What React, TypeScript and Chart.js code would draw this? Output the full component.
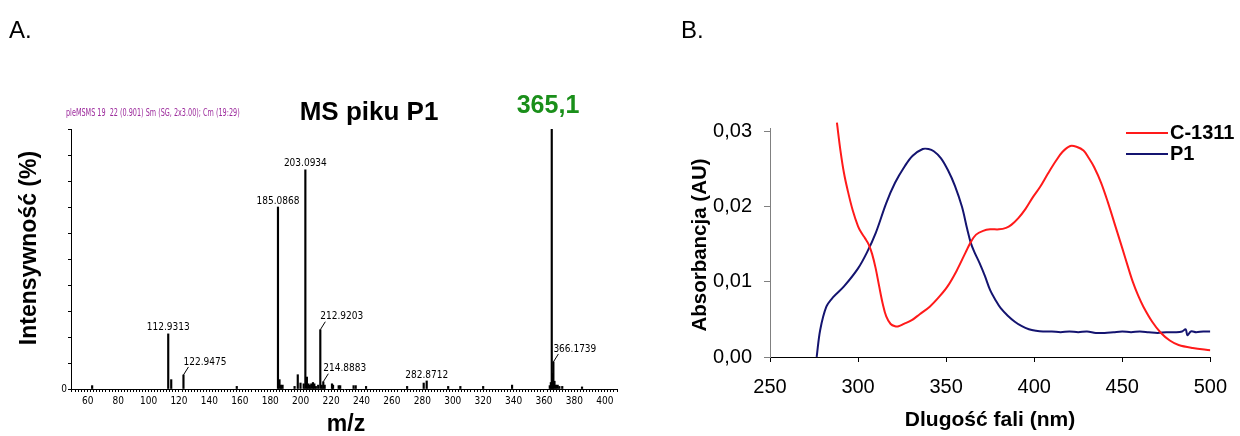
import React, { useEffect, useRef } from 'react';
import { Chart, registerables } from 'chart.js';
Chart.register(...registerables);

// ---------- Panel A: MS spectrum ----------
const peakMz = [62.9, 112.9313, 114.9, 122.9475, 158.0, 185.0868, 186.09, 187.1, 188.1, 196.0, 198.1, 199.9,
  202.0, 203.0934, 204.1, 205.1, 206.0, 207.0, 208.1, 209.0, 210.0, 211.5, 212.9203, 213.9, 214.8883, 215.8,
  220.6, 221.3, 225.0, 226.0, 234.8, 236.2, 243.0, 270.0, 280.9, 282.8712, 297.0, 305.0, 320.0, 339.0,
  363.8, 364.5, 365.1, 365.6, 366.1739, 366.9, 367.9, 369.0, 370.1, 372.0, 385.0];
const peakIntensity = [1.3, 21.2, 3.6, 5.4, 1.0, 70, 3.6, 1.5, 1.5, 1.0, 5.5, 2.3,
  2.0, 84.3, 4.6, 2.0, 1.5, 2.0, 2.5, 2.0, 1.0, 1.5, 22.8, 1.5, 2.8, 1.5,
  2.0, 1.5, 1.3, 1.3, 1.3, 1.3, 1.0, 1.0, 2.3, 3.1, 1.0, 1.0, 1.0, 1.5,
  1.3, 2.5, 100, 6.0, 10.4, 3.0, 1.5, 1.5, 1.0, 1.0, 0.8];
const labelMz = [112.9313, 122.9475, 185.0868, 203.0934, 212.9203, 214.8883, 282.8712, 366.1739];
const labelText = ['112.9313', '122.9475', '185.0868', '203.0934', '212.9203', '214.8883', '282.8712', '366.1739'];
const labelLeader = [false, true, false, false, true, true, false, true];

// ---------- Panel B: UV-Vis spectra ----------
const nmC1311 = [288, 290, 292, 294, 297, 300, 302, 304, 306, 308, 310, 312, 314, 316, 318.5, 321, 323, 326, 330.5,
  335, 340.7, 346, 350.8, 356, 361, 364, 367, 371, 375, 380, 384, 387, 391, 395, 399, 403.5, 408, 412, 416, 420.5,
  424, 428, 431, 434, 438, 442, 446, 450, 453, 456, 459, 462, 467, 472, 477, 482, 490, 500];
const absC1311 = [0.0312, 0.0275, 0.0245, 0.0223, 0.0195, 0.0174, 0.0165, 0.0158, 0.0150, 0.0137, 0.0118, 0.0094,
  0.0071, 0.0054, 0.0044, 0.0041, 0.0041, 0.0044, 0.0049, 0.0057, 0.0067, 0.0080, 0.0094, 0.0115, 0.0139, 0.0153,
  0.0163, 0.0168, 0.0170, 0.0170, 0.0172, 0.0176, 0.0185, 0.0197, 0.0212, 0.0227, 0.0245, 0.0260, 0.0273, 0.0281,
  0.0280, 0.0275, 0.0265, 0.0253, 0.0232, 0.0205, 0.0175, 0.0145, 0.0122, 0.0100, 0.0082, 0.0067, 0.0047, 0.0032,
  0.0022, 0.0016, 0.0012, 0.0009];
const nmP1 = [276.5, 278.5, 282, 286, 292, 300, 305, 310, 316, 321, 326.5, 331, 336.7, 340, 343, 347, 351, 355, 359,
  362, 364, 366, 369, 372, 375, 378, 381, 385, 389, 393, 397, 401, 405, 410, 415, 420, 425, 430, 435, 440, 445, 450,
  455, 460, 465, 470, 475, 480, 484, 486, 487, 489, 492, 496, 500];
const absP1 = [0, 0.0036, 0.0067, 0.0080, 0.0094, 0.0118, 0.0139, 0.0165, 0.0205, 0.0232, 0.0254, 0.0268, 0.0277,
  0.0277, 0.0274, 0.0265, 0.0249, 0.0228, 0.0200, 0.0170, 0.0152, 0.0140, 0.0125, 0.0108, 0.0089, 0.0076, 0.0065,
  0.0055, 0.0047, 0.0041, 0.0037, 0.0035, 0.0034, 0.0034, 0.0033, 0.0034, 0.0033, 0.0034, 0.0032, 0.0032, 0.0033,
  0.0034, 0.0033, 0.0034, 0.0033, 0.0032, 0.0033, 0.0033, 0.0034, 0.0037, 0.0029, 0.0034, 0.0033, 0.0034, 0.0034];
const xTicksB = [250, 300, 350, 400, 450, 500];
const yTicksB = [0, 0.01, 0.02, 0.03];
const seriesNames = ['C-1311', 'P1'];
const seriesColors = ['#ff1a1a', '#141470'];

const SANS = "'Liberation Sans', Arial, sans-serif";
const NARROW = "'Liberation Sans Narrow', 'DejaVu Sans Condensed', sans-serif";

type TextItem = { t: string; x: number; y: number; font: string; color?: string; align?: CanvasTextAlign; rot?: number; sx?: number };

function textPlugin(items: TextItem[], offX: number) {
  return {
    id: 'staticTexts',
    afterDraw(chart: any) {
      const ctx = chart.ctx;
      items.forEach((it) => {
        ctx.save();
        ctx.font = it.font;
        ctx.fillStyle = it.color || '#000';
        ctx.textAlign = it.align || 'center';
        ctx.textBaseline = 'middle';
        ctx.translate(it.x - offX, it.y);
        if (it.rot) ctx.rotate(it.rot);
        if (it.sx) ctx.scale(it.sx, 1);
        ctx.fillText(it.t, 0, 0);
        ctx.restore();
      });
    },
  };
}

const peakLabelPlugin = {
  id: 'peakLabels',
  afterDatasetsDraw(chart: any) {
    const { ctx } = chart;
    const x = chart.scales.x, y = chart.scales.y;
    ctx.save();
    ctx.font = `10px ${NARROW}`;
    ctx.fillStyle = '#000';
    ctx.strokeStyle = '#000';
    ctx.lineWidth = 1;
    ctx.textBaseline = 'middle';
    labelMz.forEach((mz, i) => {
      const idx = peakMz.indexOf(mz);
      const px = x.getPixelForValue(mz);
      const py = y.getPixelForValue(peakIntensity[idx]);
      if (labelLeader[i]) {
        ctx.beginPath();
        ctx.moveTo(px, py);
        ctx.lineTo(px + 5, py - 8);
        ctx.stroke();
        ctx.textAlign = 'left';
        ctx.fillText(labelText[i], px, py - 13);
      } else {
        ctx.textAlign = 'center';
        ctx.fillText(labelText[i], px, py - 6);
      }
    });
    ctx.restore();
  },
};

const legendPluginB = {
  id: 'legendB',
  afterDraw(chart: any) {
    const ctx = chart.ctx;
    const off = 620;
    const rows = [133, 154];
    ctx.save();
    chart.data.datasets.forEach((ds: any, i: number) => {
      ctx.strokeStyle = ds.borderColor;
      ctx.lineWidth = 2;
      ctx.beginPath();
      ctx.moveTo(1126 - off, rows[i]);
      ctx.lineTo(1168 - off, rows[i]);
      ctx.stroke();
      ctx.fillStyle = '#000';
      ctx.font = `bold 20px ${SANS}`;
      ctx.textAlign = 'left';
      ctx.textBaseline = 'middle';
      ctx.fillText(ds.label, 1170 - off, rows[i]);
    });
    ctx.restore();
  },
};

export default function App() {
  const refA = useRef<HTMLCanvasElement>(null);
  const refB = useRef<HTMLCanvasElement>(null);

  useEffect(() => {
    const textsA: TextItem[] = [
      { t: 'A.', x: 9, y: 31, font: `24px ${SANS}`, align: 'left' },
      { t: 'pleMSMS 19  22 (0.901) Sm (SG, 2x3.00); Cm (19:29)', x: 66, y: 113, font: `10px ${NARROW}`, color: '#9c2a9c', align: 'left', sx: 0.72 },
      { t: 'MS piku P1', x: 369, y: 113, font: `bold 26px ${SANS}` },
      { t: '365,1', x: 548, y: 106, font: `bold 25px ${SANS}`, color: '#1a8f1a' },
      { t: 'Intensywność (%)', x: 30, y: 248, font: `bold 23px ${SANS}`, rot: -Math.PI / 2 },
      { t: 'm/z', x: 346, y: 425, font: `bold 23px ${SANS}` },
    ];
    const chartA = new Chart(refA.current!, {
      type: 'bar',
      data: {
        datasets: [{
          data: peakMz.map((m, i) => ({ x: m, y: peakIntensity[i] })),
          backgroundColor: '#000',
          borderWidth: 0,
          barThickness: 1.5,
        }],
      },
      options: {
        animation: false,
        responsive: false,
        devicePixelRatio: 1,
        layout: { padding: { left: 0, right: 3, top: 129, bottom: 0 } },
        plugins: { legend: { display: false }, tooltip: { enabled: false } },
        scales: {
          x: {
            type: 'linear', min: 49, max: 408, offset: false,
            grid: { drawOnChartArea: false, offset: false, tickLength: 3, tickColor: '#000', color: '#000', tickWidth: 1 },
            border: { display: true, color: '#000', width: 1 },
            ticks: {
              stepSize: 2, autoSkip: false, maxRotation: 0, padding: 3, color: '#000',
              font: { family: NARROW, size: 10 },
              callback: (v: any) => (Math.abs(Number(v) % 20) < 1e-6 ? String(Math.round(Number(v))) : ''),
            },
            afterFit: (s: any) => { s.height = 47; },
          },
          y: {
            type: 'linear', min: 0, max: 100,
            grid: { drawOnChartArea: false, tickLength: 3, tickColor: '#000', color: '#000', tickWidth: 1 },
            border: { display: true, color: '#000', width: 1 },
            ticks: {
              stepSize: 10, autoSkip: false, padding: 1, color: '#000',
              font: { family: NARROW, size: 10 },
              callback: (v: any) => (Number(v) === 0 ? '0' : ' '),
            },
            afterFit: (s: any) => { s.width = 71; },
          },
        },
      } as any,
      plugins: [peakLabelPlugin, textPlugin(textsA, 0)],
    });

    const textsB: TextItem[] = [
      { t: 'B.', x: 681, y: 31, font: `24px ${SANS}`, align: 'left' },
      { t: 'Absorbancja (AU)', x: 700, y: 245, font: `bold 20.5px ${SANS}`, rot: -Math.PI / 2 },
      { t: 'Dlugość fali (nm)', x: 990, y: 420, font: `bold 21px ${SANS}` },
    ];
    const chartB = new Chart(refB.current!, {
      type: 'line',
      data: {
        datasets: [
          {
            label: seriesNames[0],
            data: nmC1311.map((n, i) => ({ x: n, y: absC1311[i] })),
            borderColor: seriesColors[0], borderWidth: 2, pointRadius: 0, tension: 0.35,
            clip: { left: 0, top: 6, right: 0, bottom: 0 },
          },
          {
            label: seriesNames[1],
            data: nmP1.map((n, i) => ({ x: n, y: absP1[i] })),
            borderColor: seriesColors[1], borderWidth: 2, pointRadius: 0, tension: 0.35,
          },
        ],
      },
      options: {
        animation: false,
        responsive: false,
        devicePixelRatio: 1,
        layout: { padding: { left: 0, right: 29, top: 128, bottom: 0 } },
        plugins: { legend: { display: false }, tooltip: { enabled: false } },
        scales: {
          x: {
            type: 'linear', min: 250, max: 500,
            grid: { drawOnChartArea: false, tickLength: 5, tickColor: '#000', color: '#000' },
            border: { display: true, color: '#000', width: 1 },
            afterBuildTicks: (s: any) => { s.ticks = xTicksB.map((v) => ({ value: v })); },
            ticks: { autoSkip: false, maxRotation: 0, padding: 13, color: '#000', font: { family: SANS, size: 20 } },
            afterFit: (s: any) => { s.height = 79; },
          },
          y: {
            type: 'linear', min: 0, max: 0.0305,
            grid: { drawOnChartArea: false, tickLength: 6, tickColor: '#808080', color: '#808080' },
            border: { display: true, color: '#808080', width: 1 },
            afterBuildTicks: (s: any) => { s.ticks = yTicksB.map((v) => ({ value: v })); },
            ticks: {
              autoSkip: false, padding: 12, color: '#000', font: { family: SANS, size: 20 },
              callback: (v: any) => Number(v).toFixed(2).replace('.', ','),
            },
            afterFit: (s: any) => { s.width = 150; },
          },
        },
      } as any,
      plugins: [legendPluginB, textPlugin(textsB, 620)],
    });

    return () => { chartA.destroy(); chartB.destroy(); };
  }, []);

  return (
    <div style={{ position: 'absolute', left: 0, top: 0, width: 1240, height: 436, background: '#fff', overflow: 'hidden' }}>
      <canvas ref={refA} width={620} height={436} style={{ position: 'absolute', left: 0, top: 0, width: 620, height: 436 }} />
      <canvas ref={refB} width={620} height={436} style={{ position: 'absolute', left: 620, top: 0, width: 620, height: 436 }} />
    </div>
  );
}
